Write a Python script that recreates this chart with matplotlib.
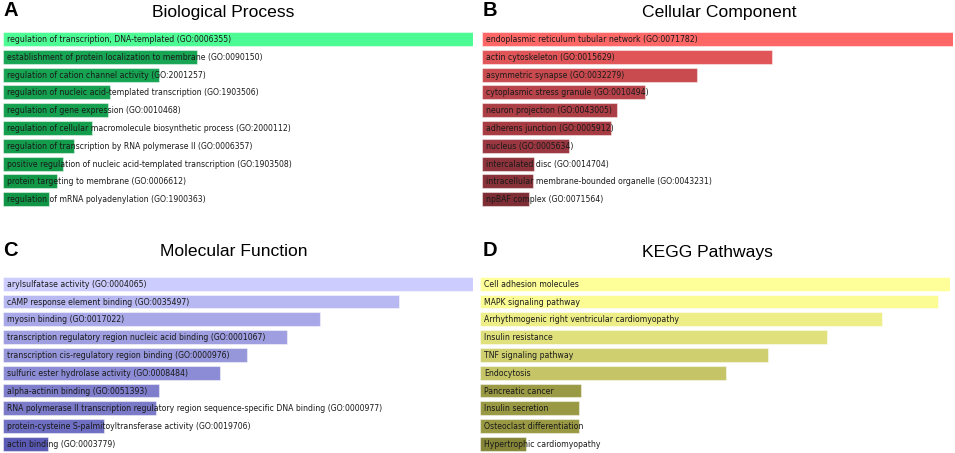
import matplotlib
matplotlib.use('Agg')
import matplotlib.pyplot as plt

# panel A - GO Biological Process
bp_terms = ['regulation of transcription, DNA-templated (GO:0006355)',
            'establishment of protein localization to membrane (GO:0090150)',
            'regulation of cation channel activity (GO:2001257)',
            'regulation of nucleic acid-templated transcription (GO:1903506)',
            'regulation of gene expression (GO:0010468)',
            'regulation of cellular macromolecule biosynthetic process (GO:2000112)',
            'regulation of transcription by RNA polymerase II (GO:0006357)',
            'positive regulation of nucleic acid-templated transcription (GO:1903508)',
            'protein targeting to membrane (GO:0006612)',
            'regulation of mRNA polyadenylation (GO:1900363)']
bp_scores = [1.0, 0.413, 0.332, 0.228, 0.223, 0.189, 0.151, 0.128, 0.115, 0.098]

# panel B - GO Cellular Component
cc_terms = ['endoplasmic reticulum tubular network (GO:0071782)',
            'actin cytoskeleton (GO:0015629)',
            'asymmetric synapse (GO:0032279)',
            'cytoplasmic stress granule (GO:0010494)',
            'neuron projection (GO:0043005)',
            'adherens junction (GO:0005912)',
            'nucleus (GO:0005634)',
            'intercalated disc (GO:0014704)',
            'intracellular membrane-bounded organelle (GO:0043231)',
            'npBAF complex (GO:0071564)']
cc_scores = [1.0, 0.616, 0.456, 0.346, 0.287, 0.274, 0.185, 0.110, 0.108, 0.100]

# panel C - GO Molecular Function
mf_terms = ['arylsulfatase activity (GO:0004065)',
            'cAMP response element binding (GO:0035497)',
            'myosin binding (GO:0017022)',
            'transcription regulatory region nucleic acid binding (GO:0001067)',
            'transcription cis-regulatory region binding (GO:0000976)',
            'sulfuric ester hydrolase activity (GO:0008484)',
            'alpha-actinin binding (GO:0051393)',
            'RNA polymerase II transcription regulatory region sequence-specific DNA binding (GO:0000977)',
            'protein-cysteine S-palmitoyltransferase activity (GO:0019706)',
            'actin binding (GO:0003779)']
mf_scores = [1.0, 0.843, 0.674, 0.604, 0.519, 0.462, 0.332, 0.326, 0.215, 0.096]

# panel D - KEGG
kegg_terms = ['Cell adhesion molecules',
              'MAPK signaling pathway',
              'Arrhythmogenic right ventricular cardiomyopathy',
              'Insulin resistance',
              'TNF signaling pathway',
              'Endocytosis',
              'Pancreatic cancer',
              'Insulin secretion',
              'Osteoclast differentiation',
              'Hypertrophic cardiomyopathy']
kegg_scores = [1.0, 0.974, 0.855, 0.738, 0.613, 0.523, 0.215, 0.211, 0.211, 0.098]

# bar colours (style)
bp_colors = ['#4dfb94', '#17a554', '#16a352', '#15a150', '#14a04f', '#139e4d',
             '#129c4b', '#119a49', '#109847', '#0f9545']
cc_colors = ['#ff6666', '#e05558', '#c94b4f', '#b8434a', '#ac3e45', '#a63b42',
             '#9a3740', '#8e333b', '#883138', '#7e2d34']
mf_colors = ['#ccccff', '#b8b8f2', '#a8a8e8', '#9e9ee0', '#9696db', '#8c8cd6',
             '#7e7ecc', '#7a7ac9', '#6e6ec2', '#5a5ab5']
kegg_colors = ['#ffff99', '#fcfc94', '#eeee88', '#e0e07c', '#cfcf70', '#c5c567',
               '#9a9a45', '#999944', '#999944', '#868638']

W, H = 955, 453
fig = plt.figure(figsize=(W / 100, H / 100), dpi=100)


def draw_panel(left, right, top_center, terms, scores, colors, title, letter,
               title_x, title_y, letter_x, letter_y):
    step = 17.8
    y_top = top_center - step / 2
    y_bot = top_center + step * 9 + step / 2
    ax = fig.add_axes([left / W, 1 - y_bot / H, (right - left) / W, (y_bot - y_top) / H])
    rows = list(range(len(terms)))
    ax.barh(rows, scores, height=0.78, color=colors, edgecolor=(1, 1, 1, 0.45),
            linewidth=0.8, align='center')
    for r, t in zip(rows, terms):
        ax.text(0.008, r + 0.03, t, ha='left', va='center', fontsize=5.6,
                color='#1a1a1a', family='DejaVu Sans')
    ax.set_xlim(0, 1)
    ax.set_ylim(len(terms) - 0.5, -0.5)
    ax.axis('off')
    fig.text(title_x / W, 1 - title_y / H, title, ha='center', va='center',
             fontsize=12.6, family='Liberation Sans')
    fig.text(letter_x / W, 1 - letter_y / H, letter, ha='left', va='center',
             fontsize=14.5, fontweight='bold', family='Liberation Sans')


draw_panel(3, 473, 39, bp_terms, bp_scores, bp_colors, 'Biological Process', 'A',
           223, 12, 3, 11)
draw_panel(482, 953, 39, cc_terms, cc_scores, cc_colors, 'Cellular Component', 'B',
           719, 12, 483, 11)
draw_panel(3, 473, 283.7, mf_terms, mf_scores, mf_colors, 'Molecular Function', 'C',
           234, 251, 3, 251)
draw_panel(480, 950, 283.7, kegg_terms, kegg_scores, kegg_colors, 'KEGG Pathways', 'D',
           707, 252, 483, 251)

fig.savefig('out.png', dpi=100)
